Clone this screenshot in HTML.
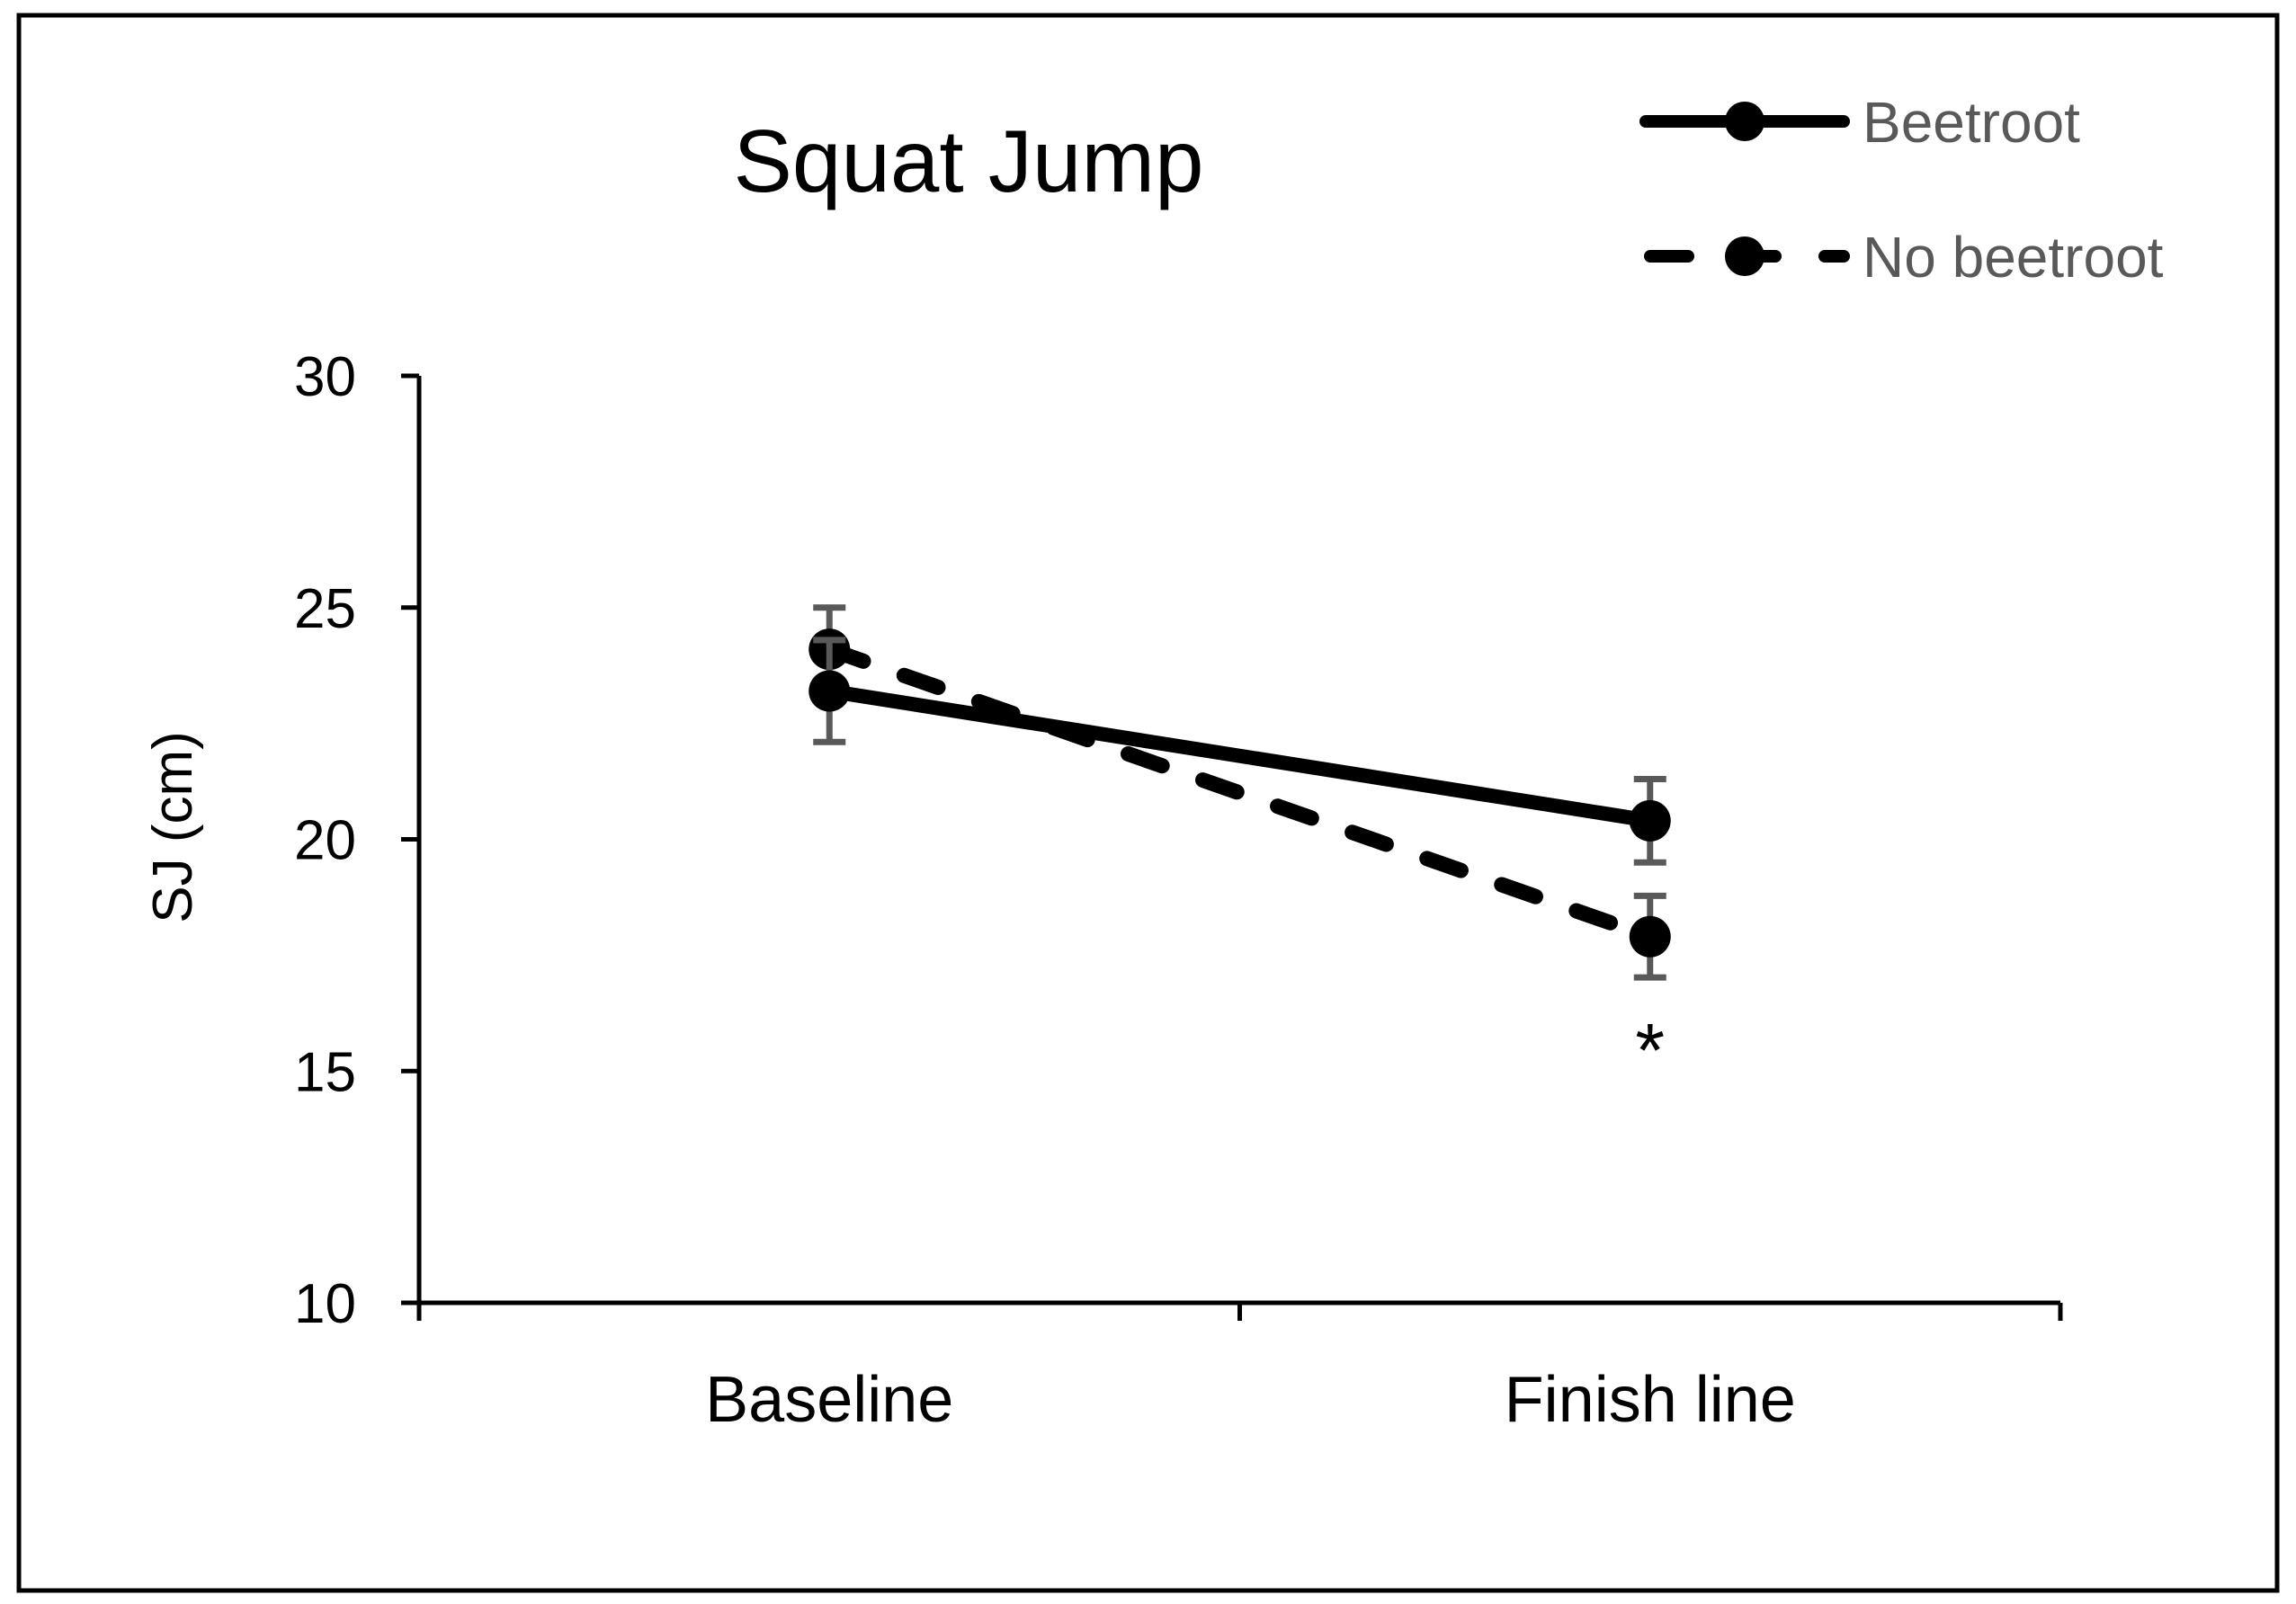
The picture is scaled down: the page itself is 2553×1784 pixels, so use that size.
<!DOCTYPE html>
<html><head><meta charset="utf-8"><style>
html,body{margin:0;padding:0;background:#fff;}
svg{display:block;}
text{font-family:"Liberation Sans",sans-serif;}
</style></head><body>
<svg id="chart" width="2553" height="1784" viewBox="0 0 2553 1784">
<rect x="21" y="17" width="2511" height="1752" fill="none" stroke="#000" stroke-width="5"/>
<text x="1077" y="213" font-size="98" text-anchor="middle" fill="#000">Squat Jump</text>
<g>
<g>
<line x1="1830" y1="135" x2="2050" y2="135" stroke="#000" stroke-width="14" stroke-linecap="round"/>
<circle cx="1940" cy="135" r="22" fill="#000"/>
<text x="2071" y="158" font-size="64" fill="#595959">Beetroot</text>
</g>
<g>
<line x1="1835" y1="285" x2="2050" y2="285" stroke="#000" stroke-width="14" stroke-linecap="round" stroke-dasharray="42 55"/>
<circle cx="1940" cy="285" r="22" fill="#000"/>
<text x="2071" y="308" font-size="64" fill="#595959">No beetroot</text>
</g>
</g>
<text transform="translate(213,920) rotate(-90)" font-size="62" text-anchor="middle" fill="#000">SJ (cm)</text>
<g id="axes"></g>
<g id="marks"></g>
</svg>
<script>
const categories = ["Baseline", "Finish line"];
const beetrootValues = [23.2, 20.4];
const beetrootErrors = [1.1, 0.9];
const noBeetrootValues = [24.1, 17.9];
const noBeetrootErrors = [0.9, 0.88];
const yTicks = [10, 15, 20, 25, 30];
const significance = ["", "*"];

const NS = "http://www.w3.org/2000/svg";
const x0 = 466, x1 = 2291, yTop = 418, yBot = 1449, yMin = 10, yMax = 30;
function xScale(i){ const w = (x1 - x0) / categories.length; return x0 + w * (i + 0.5); }
function yScale(v){ return yBot - (v - yMin) / (yMax - yMin) * (yBot - yTop); }
function mk(tag, attrs, parent){ const e = document.createElementNS(NS, tag); for (const k in attrs) e.setAttribute(k, attrs[k]); parent.appendChild(e); return e; }
const axes = document.getElementById("axes");
const marks = document.getElementById("marks");

const ya = mk("line", {x1:x0, y1:yTop, x2:x0, y2:yBot, stroke:"#000", "stroke-width":5}, axes);


const xa = mk("line", {x1:x0-2, y1:yBot, x2:x1, y2:yBot, stroke:"#000", "stroke-width":5}, axes);


yTicks.forEach(v => {
  const y = yScale(v);
  const t = mk("line", {x1:x0-20, y1:y, x2:x0, y2:y, stroke:"#000", "stroke-width":5}, axes);
  
  
  const l = mk("text", {x:396, y:y+22, "font-size":62, "text-anchor":"end", fill:"#000"}, axes);
  l.textContent = v;
  
  
});
for (let i = 0; i <= categories.length; i++) {
  const x = x0 + (x1 - x0) / categories.length * i;
  const t = mk("line", {x1:x, y1:yBot, x2:x, y2:yBot+20, stroke:"#000", "stroke-width":5}, axes);
  
  
}
categories.forEach((c, i) => {
  const l = mk("text", {x:xScale(i), y:1581, "font-size":72, "text-anchor":"middle", fill:"#000"}, axes);
  l.textContent = c;
  
  
});

function series(vals, errs, dashed, name){
  const g = mk("g", {}, marks);
  
  
  const pts = vals.map((v, i) => xScale(i) + "," + yScale(v)).join(" ");
  const attrs = {points:pts, fill:"none", stroke:"#000", "stroke-width":dashed ? 17 : 16, "stroke-linecap":"round"};
  if (dashed) attrs["stroke-dasharray"] = "40 48";
  const pl = mk("polyline", attrs, g);
  
  
  vals.forEach((v, i) => {
    const x = xScale(i), yh = yScale(v + errs[i]), yl = yScale(v - errs[i]);
    const eb = mk("path", {d:`M${x},${yh}V${yl}M${x-18},${yh}H${x+18}M${x-18},${yl}H${x+18}`, stroke:"#595959", "stroke-width":7, fill:"none"}, g);
    
    
  });
  vals.forEach((v, i) => {
    const c = mk("circle", {cx:xScale(i), cy:yScale(v), r:23, fill:"#000"}, g);
    
    
  });
}
series(noBeetrootValues, noBeetrootErrors, true, "no-beetroot-series");
series(beetrootValues, beetrootErrors, false, "beetroot-series");

significance.forEach((s, i) => {
  if (!s) return;
  const y = yScale(noBeetrootValues[i] - noBeetrootErrors[i]) + 110;
  const t = mk("text", {x:xScale(i), y:y, "font-size":84, "text-anchor":"middle", fill:"#000"}, marks);
  t.textContent = s;
  
  
});
</script>
</body></html>
